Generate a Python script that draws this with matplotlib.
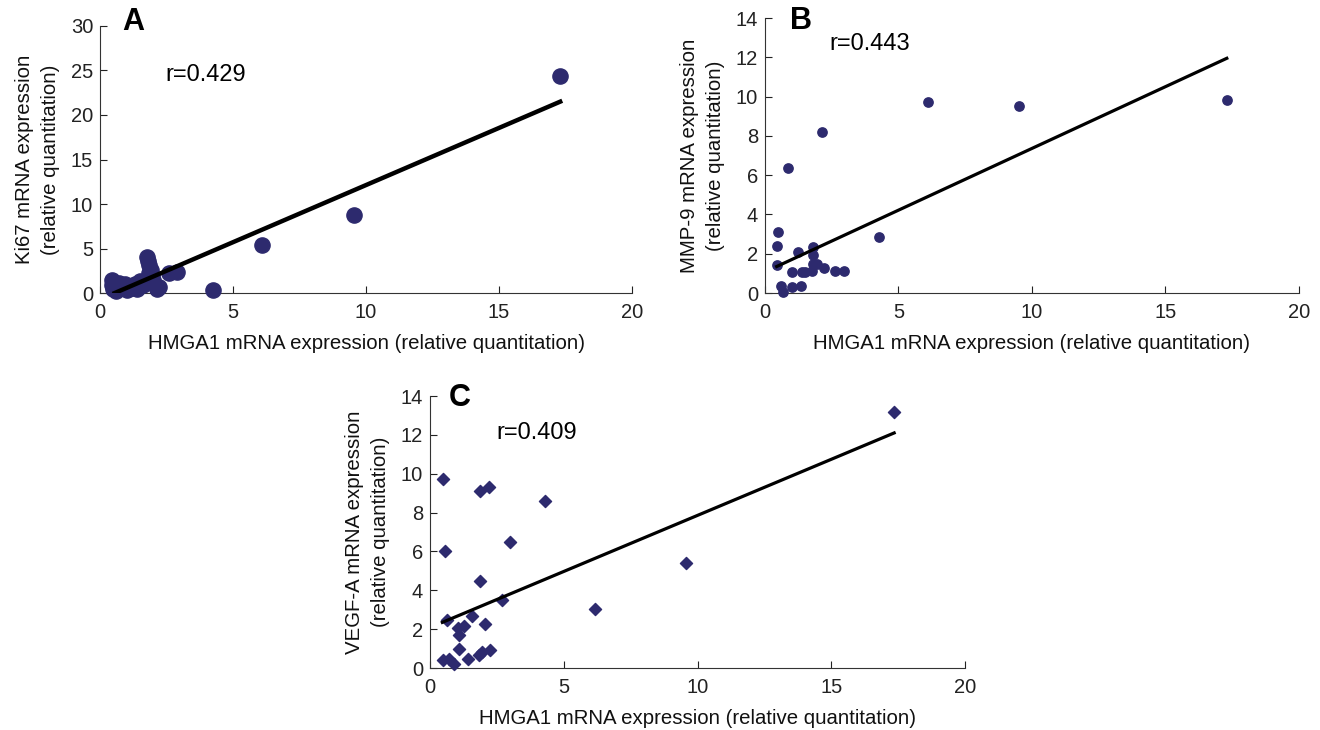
import matplotlib
matplotlib.use("Agg")
import matplotlib.pyplot as plt

plt.rcParams["font.family"] = ["Liberation Sans", "DejaVu Sans"]

POINT = "#2d2a6e"

# Panel A: HMGA1 vs Ki67
a_x = [0.45, 0.45, 0.5, 0.6, 0.7, 0.8, 0.95, 1.0, 1.1, 1.2, 1.3, 1.4, 1.5, 1.6,
       1.75, 1.8, 1.85, 1.9, 1.85, 1.95, 2.0, 2.2, 2.15, 2.6, 2.9, 4.25, 6.1, 9.55, 17.3]
a_y = [1.5, 0.9, 0.5, 0.2, 1.1, 0.7, 1.0, 0.3, 0.8, 0.6, 1.0, 0.4, 1.3, 0.9,
       4.1, 3.6, 3.2, 2.6, 2.2, 1.9, 1.5, 0.7, 0.4, 2.2, 2.4, 0.3, 5.4, 8.8, 24.4]
a_fit_x = [0.55, 17.3]
a_fit_y = [0.0, 21.5]

# Panel B: HMGA1 vs MMP-9
b_x = [2.15, 0.87, 0.5, 0.44, 0.44, 1.25, 1.81, 1.81, 1.81, 1.96, 2.21, 2.62, 2.96,
       1.02, 1.37, 1.5, 1.75, 0.59, 0.66, 1.02, 1.36, 4.28, 6.1, 9.5, 17.3]
b_y = [8.2, 6.35, 3.1, 2.4, 1.45, 2.1, 2.35, 1.95, 1.5, 1.5, 1.25, 1.1, 1.1,
       1.05, 1.05, 1.05, 1.1, 0.37, 0.07, 0.3, 0.38, 2.85, 9.7, 9.5, 9.85]
b_fit_x = [0.44, 17.3]
b_fit_y = [1.35, 11.95]

# Panel C: HMGA1 vs VEGF-A
c_x = [0.5, 1.87, 2.2, 2.99, 0.54, 1.87, 2.68, 0.65, 1.56, 2.06, 1.06, 1.28, 1.08,
       1.08, 0.47, 0.71, 0.9, 1.43, 1.84, 1.93, 2.24, 4.3, 6.15, 9.55, 17.35]
c_y = [9.75, 9.1, 9.3, 6.5, 6.0, 4.5, 3.5, 2.45, 2.7, 2.25, 2.05, 2.15, 1.7,
       1.0, 0.42, 0.48, 0.2, 0.45, 0.65, 0.85, 0.95, 8.6, 3.05, 5.4, 13.2]
c_fit_x = [0.46, 17.35]
c_fit_y = [2.35, 12.1]

XLABEL = "HMGA1 mRNA expression (relative quantitation)"


def style(ax, ymax, ystep, ylabel):
    ax.set_xlim(0, 20)
    ax.set_ylim(0, ymax)
    ax.set_xticks(range(0, 21, 5))
    ax.set_yticks(range(0, ymax + 1, ystep))
    ax.spines[["top", "right"]].set_visible(False)
    ax.tick_params(direction="in", length=5, labelsize=14.5, width=0.8,
                   colors="#222222")
    ax.tick_params(axis="x", pad=7)
    ax.tick_params(axis="y", pad=5)
    ax.set_xlabel(XLABEL, fontsize=14.7, labelpad=9, color="#111111")
    ax.set_ylabel(ylabel, fontsize=14.7, labelpad=8, linespacing=1.45,
                  color="#111111")
    ax.patch.set_alpha(0)
    for sp in ax.spines.values():
        sp.set_linewidth(0.8)
        sp.set_color("#333333")


fig = plt.figure(figsize=(13.2, 7.3), dpi=100)
ax_a = fig.add_axes([0.0758, 0.5986, 0.403, 0.3658])
ax_b = fig.add_axes([0.5795, 0.5986, 0.4045, 0.3767])
ax_c = fig.add_axes([0.3258, 0.0849, 0.4053, 0.3726])

ax_a.scatter(a_x, a_y, s=120, color=POINT, zorder=3, clip_on=False)
ax_a.plot(a_fit_x, a_fit_y, color="black", lw=3.2, zorder=4)
style(ax_a, 30, 5, "Ki67 mRNA expression\n(relative quantitation)")
ax_a.text(2.45, 24.5, "r=0.429", fontsize=17, va="center")
ax_a.text(0.062, 1.015, "A", transform=ax_a.transAxes, fontsize=22,
          fontweight="bold", ha="center", va="center")

ax_b.scatter(b_x, b_y, s=45, color=POINT, zorder=3, clip_on=False)
ax_b.plot(b_fit_x, b_fit_y, color="black", lw=2.3, zorder=4)
style(ax_b, 14, 2, "MMP-9 mRNA expression\n(relative quantitation)")
ax_b.text(2.43, 12.7, "r=0.443", fontsize=17, va="center")
ax_b.text(0.067, 0.989, "B", transform=ax_b.transAxes, fontsize=22,
          fontweight="bold", ha="center", va="center")

ax_c.scatter(c_x, c_y, s=38, marker="D", color=POINT, zorder=3, clip_on=False)
ax_c.plot(c_fit_x, c_fit_y, color="black", lw=2.3, zorder=4)
style(ax_c, 14, 2, "VEGF-A mRNA expression\n(relative quantitation)")
ax_c.text(2.47, 12.1, "r=0.409", fontsize=17, va="center")
ax_c.text(0.056, 0.993, "C", transform=ax_c.transAxes, fontsize=22,
          fontweight="bold", ha="center", va="center")

fig.savefig("out.png", dpi=100)
